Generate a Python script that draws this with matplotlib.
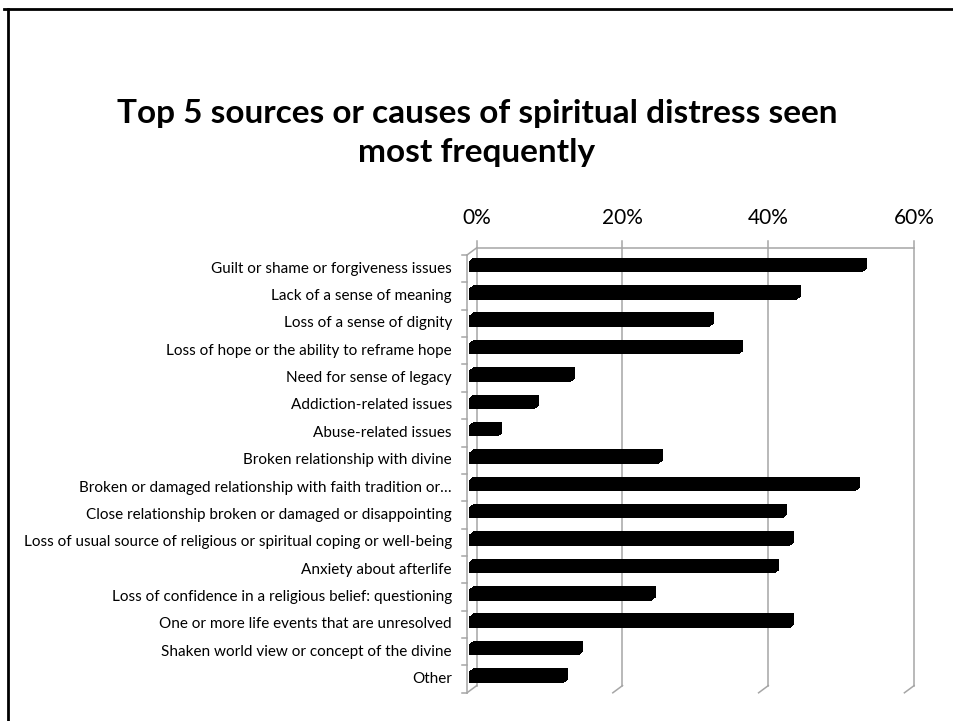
import matplotlib
matplotlib.use("Agg")
import matplotlib.pyplot as plt
import matplotlib.transforms as mtransforms
from matplotlib.lines import Line2D

categories = [
    "Guilt or shame or forgiveness issues",
    "Lack of a sense of meaning",
    "Loss of a sense of dignity",
    "Loss of hope or the ability to reframe hope",
    "Need for sense of legacy",
    "Addiction-related issues",
    "Abuse-related issues",
    "Broken relationship with divine",
    "Broken or damaged relationship with faith tradition or\u2026",
    "Close relationship broken or damaged or disappointing",
    "Loss of usual source of religious or spiritual coping or well-being",
    "Anxiety about afterlife",
    "Loss of confidence in a religious belief: questioning",
    "One or more life events that are unresolved",
    "Shaken world view or concept of the divine",
    "Other",
]
values = [54, 45, 33, 37, 14, 9, 4, 26, 53, 43, 44, 42, 25, 44, 15, 13]
xticks = [0, 20, 40, 60]
xtick_labels = ["0%", "20%", "40%", "60%"]
title = "Top 5 sources or causes of spiritual distress seen\nmost frequently"

FONT = "Lato"
W, H, DPI = 954, 721, 100
fig = plt.figure(figsize=(W / DPI, H / DPI), dpi=DPI)
fig.patch.set_facecolor("white")

# bar (front-face) plane in pixels
left_px, right_px = 469.3, 906.7
top_px, bot_px = 252.8, 690.6
ax = fig.add_axes([left_px / W, 1 - bot_px / H, (right_px - left_px) / W, (bot_px - top_px) / H])
ax.set_xlim(0, 60)
n = len(categories)
ax.set_ylim(n - 0.5, -0.5)
ax.axis("off")

def off(dx, dy):
    # dx right, dy down in pixels
    return mtransforms.ScaledTranslation(dx / DPI, -dy / DPI, fig.dpi_scale_trans)

front = ax.transData + off(-2.3, 2.2)
back = ax.transData + off(7.4, -5.0)
px_per_row = (bot_px - top_px) / n
grid_col = "#a6a6a6"

def fig_line(p0, p1):
    fig.add_artist(Line2D([p0[0] / W, p1[0] / W], [p0[1] / H, p1[1] / H], color=grid_col, lw=1.1,
                          transform=fig.transFigure))

# back wall gridlines with small tick extensions above
ext = 7 / px_per_row
for x in xticks:
    ax.plot([x, x], [-0.5 - ext, n - 0.5], color=grid_col, lw=1.1, transform=back, clip_on=False, zorder=1)
    fig_line(back.transform((x, n - 0.5)), front.transform((x, n - 0.5)))
# back wall top edge
ax.plot([xticks[0], xticks[-1]], [-0.5, -0.5], color=grid_col, lw=1.1, transform=back, clip_on=False, zorder=1)

# front-left axis line with ticks at category boundaries
ax.plot([0, 0], [-0.5, n - 0.5], color=grid_col, lw=1.1, transform=front, clip_on=False, zorder=1)
for b in range(n + 1):
    p = front.transform((0, b - 0.5))
    fig_line((p[0] - 5, p[1]), p)
# top-left diagonal
fig_line(back.transform((0, -0.5)), front.transform((0, -0.5)))

# bars: extruded silhouette (front face swept toward back face)
ypos = list(range(n))
bh = 11.5 / px_per_row
steps = 8
for k in range(steps + 1):
    f = k / steps
    ax.barh(ypos, values, height=bh, color="black", edgecolor="none", lw=0, zorder=3,
            transform=ax.transData + off(4 * f, -3 * f))

# category labels
for i, c in enumerate(categories):
    p = front.transform((0, i))
    fig.text((p[0] - 15) / W, p[1] / H, c, ha="right", va="center", fontsize=11, family=FONT)

# x tick labels on top
for x, lab in zip(xticks, xtick_labels):
    p = back.transform((x, -0.5))
    fig.text(p[0] / W, (p[1] + 30) / H, lab, ha="center", va="center", fontsize=15, family=FONT)

# title
fig.text(477 / W, 1 - 133 / H, title, ha="center", va="center", fontsize=24, fontweight="bold",
         family=FONT, linespacing=1.38)

# slide frame
fig.add_artist(Line2D([8.3 / W, 8.3 / W], [0, 1 - 8.7 / H], color="black", lw=2.0, transform=fig.transFigure))
fig.add_artist(Line2D([4 / W, 1.0], [1 - 8.7 / H, 1 - 8.7 / H], color="black", lw=2.0, transform=fig.transFigure))

fig.savefig("out.png", dpi=DPI)
